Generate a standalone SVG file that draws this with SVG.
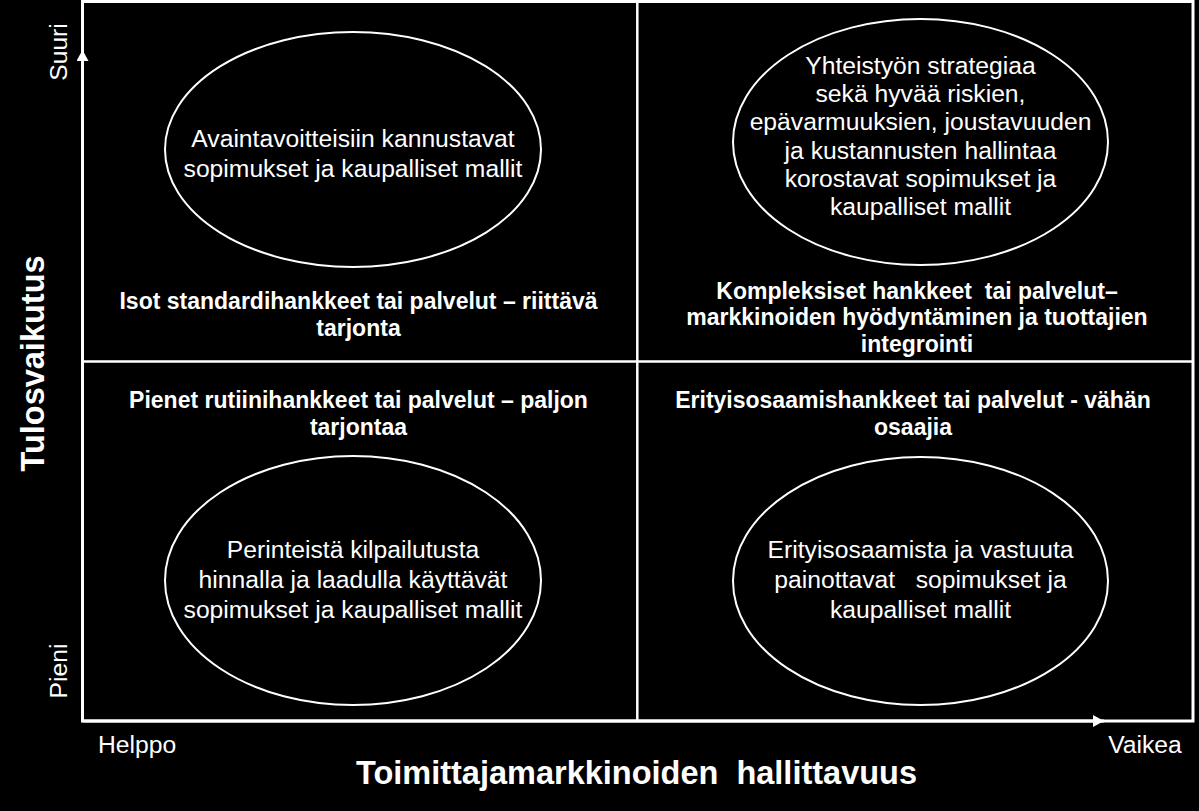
<svg xmlns="http://www.w3.org/2000/svg" width="1199" height="811" viewBox="0 0 1199 811">
  <style>
    text { font-family: "Liberation Sans", Arial, sans-serif; fill: #ffffff; text-anchor: middle; white-space: pre; }
    .reg { font-size: 24.7px; }
    .lbl { font-size: 23px; font-weight: bold; }
    .title { font-size: 32.5px; font-weight: bold; }
    .frame { fill: none; stroke: #ffffff; stroke-width: 3; }
    .grid { fill: none; stroke: #ffffff; stroke-width: 2.5; }
    .oval { fill: #000000; stroke: #ffffff; stroke-width: 2; }
    .axis { fill: none; stroke: #ffffff; stroke-width: 3; }
  </style>
  <defs>
    <marker id="arrow" viewBox="0 0 11 12" refX="11" refY="6" markerWidth="11" markerHeight="12" markerUnits="userSpaceOnUse" orient="auto">
      <path d="M0,0 L11,6 L0,12 Z" fill="#ffffff"/>
    </marker>
  </defs>
  <rect x="0" y="0" width="1199" height="811" fill="#000000"/>

  <g id="grid">
    <rect class="frame" x="82.5" y="1.5" width="1110.5" height="719.5"/>
    <line class="grid" x1="637.3" y1="1.5" x2="637.3" y2="721"/>
    <line class="grid" x1="82.5" y1="361.5" x2="1193" y2="361.5"/>
  </g>

  <g id="connectors">
    <line class="axis" x1="82.5" y1="721" x2="1104" y2="721" marker-end="url(#arrow)"/>
    <line class="axis" x1="82.5" y1="721" x2="82.5" y2="50" marker-end="url(#arrow)"/>
  </g>

  <g id="axis-labels">
    <text class="reg" transform="translate(66.5,52) rotate(-90)">Suuri</text>
    <text class="reg" transform="translate(66.5,671) rotate(-90)">Pieni</text>
    <text class="reg" x="137" y="752.5">Helppo</text>
    <text class="reg" x="1145" y="752.5">Vaikea</text>
    <text class="title" transform="translate(43.5,363.5) rotate(-90)">Tulosvaikutus</text>
    <text class="title" x="636.5" y="783.5">Toimittajamarkkinoiden  hallittavuus</text>
  </g>

  <g id="node-top-left">
    <ellipse class="oval" cx="353" cy="149.5" rx="188" ry="117.5"/>
    <text class="reg" x="353" y="147">Avaintavoitteisiin kannustavat</text>
    <text class="reg" x="353" y="177">sopimukset ja kaupalliset mallit</text>
  </g>

  <g id="node-top-right">
    <ellipse class="oval" cx="920.5" cy="142" rx="187.5" ry="123"/>
    <text class="reg" x="920.5" y="74">Yhteistyön strategiaa</text>
    <text class="reg" x="920.5" y="102.2">sekä hyvää riskien,</text>
    <text class="reg" x="920.5" y="130.4">epävarmuuksien, joustavuuden</text>
    <text class="reg" x="920.5" y="158.6">ja kustannusten hallintaa</text>
    <text class="reg" x="920.5" y="186.8">korostavat sopimukset ja</text>
    <text class="reg" x="920.5" y="215">kaupalliset mallit</text>
  </g>

  <g id="node-bottom-left">
    <ellipse class="oval" cx="353" cy="580.5" rx="188" ry="124.5"/>
    <text class="reg" x="353" y="558.3">Perinteistä kilpailutusta</text>
    <text class="reg" x="353" y="588.3">hinnalla ja laadulla käyttävät</text>
    <text class="reg" x="353" y="618.3">sopimukset ja kaupalliset mallit</text>
  </g>

  <g id="node-bottom-right">
    <ellipse class="oval" cx="920.5" cy="581" rx="187.5" ry="124"/>
    <text class="reg" x="920.5" y="558.3">Erityisosaamista ja vastuuta</text>
    <text class="reg" x="920.5" y="588.3">painottavat   sopimukset ja</text>
    <text class="reg" x="920.5" y="618.3">kaupalliset mallit</text>
  </g>

  <g id="label-top-left">
    <text class="lbl" x="358.5" y="309">Isot standardihankkeet tai palvelut – riittävä</text>
    <text class="lbl" x="358.5" y="335.5">tarjonta</text>
  </g>

  <g id="label-top-right">
    <text class="lbl" x="917" y="298.5">Kompleksiset hankkeet  tai palvelut–</text>
    <text class="lbl" x="917" y="325">markkinoiden hyödyntäminen ja tuottajien</text>
    <text class="lbl" x="917" y="351.5">integrointi</text>
  </g>

  <g id="label-bottom-left">
    <text class="lbl" x="358.5" y="407.5">Pienet rutiinihankkeet tai palvelut – paljon</text>
    <text class="lbl" x="358.5" y="435">tarjontaa</text>
  </g>

  <g id="label-bottom-right">
    <text class="lbl" x="913" y="407.5">Erityisosaamishankkeet tai palvelut - vähän</text>
    <text class="lbl" x="913" y="435">osaajia</text>
  </g>
</svg>
